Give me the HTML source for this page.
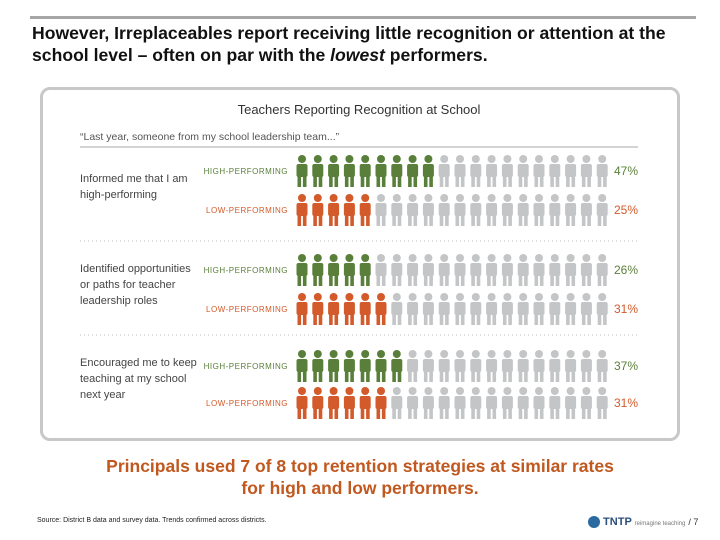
<!DOCTYPE html>
<html><head><meta charset="utf-8"><style>
body{margin:0;width:720px;height:540px;background:#fff;font-family:"Liberation Sans",sans-serif;position:relative;overflow:hidden}
.abs{position:absolute}
</style></head><body>
<div class="abs" style="left:30px;top:16px;width:666px;height:3px;background:#a6a6a6"></div>
<div class="abs" style="left:32px;top:22px;font-size:17.6px;font-weight:bold;line-height:22px;color:#111;white-space:nowrap">However, Irreplaceables report receiving little recognition or attention at the<br>school level – often on par with the <i>lowest</i> performers.</div>
<div class="abs" style="left:40px;top:87px;width:634px;height:348px;border:3px solid #c8c8c8;border-radius:10px"></div>
<svg class="abs" style="left:0;top:0" width="720" height="540" id="chart">
<text x="359" y="114" text-anchor="middle" font-size="13" fill="#333">Teachers Reporting Recognition at School</text>
<text x="80" y="140" font-size="10.5" fill="#555">“Last year, someone from my school leadership team...”</text>
<line x1="80" y1="147" x2="638" y2="147" stroke="#aaa" stroke-width="1"/>
<line x1="80" y1="241" x2="638" y2="241" stroke="#bbb" stroke-dasharray="1,3"/>
<line x1="80" y1="335" x2="638" y2="335" stroke="#bbb" stroke-dasharray="1,3"/>
</svg>
<div class="abs" style="left:0;width:720px;top:455px;text-align:center;font-size:17.5px;font-weight:bold;line-height:22px;color:#c0581f">Principals used 7 of 8 top retention strategies at similar rates<br>for high and low performers.</div>
<div class="abs" style="left:37px;top:517px;font-size:7px;color:#222">Source: District B data and survey data. Trends confirmed across districts.</div>
<div class="abs" style="left:588px;top:516px;font-size:11px;font-weight:bold;color:#2a4f7a"><span style="display:inline-block;width:12px;height:12px;border-radius:6px;background:#2a6aa0;vertical-align:middle"></span> TNTP <span style="font-size:6px;font-weight:normal;color:#777">reimagine teaching</span> <span style="font-size:9px;font-weight:normal;color:#333">/ 7</span></div>
<script>
const categories=["Informed me that I am|high-performing","Identified opportunities|or paths for teacher|leadership roles","Encouraged me to keep|teaching at my school|next year"];
const highValues=[47,26,37];
const lowValues=[25,31,31];
const svg=document.getElementById('chart');
const NS='http://www.w3.org/2000/svg';
const GREEN='#5a7f3a',ORANGE='#d35a2a',GRAY='#c4c5c7';
const x0=302,dx=15.8,rowYs=[[170,209],[269,308],[365,402]],catY=[182,272,366];
function t(x,y,s,size,fill,anchor,weight){const e=document.createElementNS(NS,'text');e.setAttribute('x',x);e.setAttribute('y',y);e.setAttribute('font-size',size);e.setAttribute('fill',fill);if(anchor)e.setAttribute('text-anchor',anchor);if(weight)e.setAttribute('font-weight',weight);e.textContent=s;svg.appendChild(e);return e;}
function person(cx,cy,color){const g=document.createElementNS(NS,'g');g.setAttribute('fill',color);
g.innerHTML=`<circle cx="${cx}" cy="${cy-11}" r="4"/><rect x="${cx-5.5}" y="${cy-6}" width="11" height="13" rx="2"/><rect x="${cx-4.5}" y="${cy+6}" width="3.6" height="11"/><rect x="${cx+0.9}" y="${cy+6}" width="3.6" height="11"/>`;
svg.appendChild(g);return g;}
function row(y,val,color,label,ri,kind){
 const l=t(288,y+4,label,8,color,'end');l.setAttribute('letter-spacing','0.5');
 
 
 const n=Math.round(val/5);
 for(let i=0;i<20;i++){const g=person(x0+i*dx,y,i<n?color:GRAY);
  
  }
 const v=t(614,y+5,val+'%',12,color);
 
 
}
categories.forEach((c,i)=>{
 c.split('|').forEach((ln,j)=>{const e=t(80,catY[i]+j*16,ln,11,'#444');
  
  });
 row(rowYs[i][0],highValues[i],GREEN,'HIGH-PERFORMING',i,'high');
 row(rowYs[i][1],lowValues[i],ORANGE,'LOW-PERFORMING',i,'low');
});
</script>
</body></html>
